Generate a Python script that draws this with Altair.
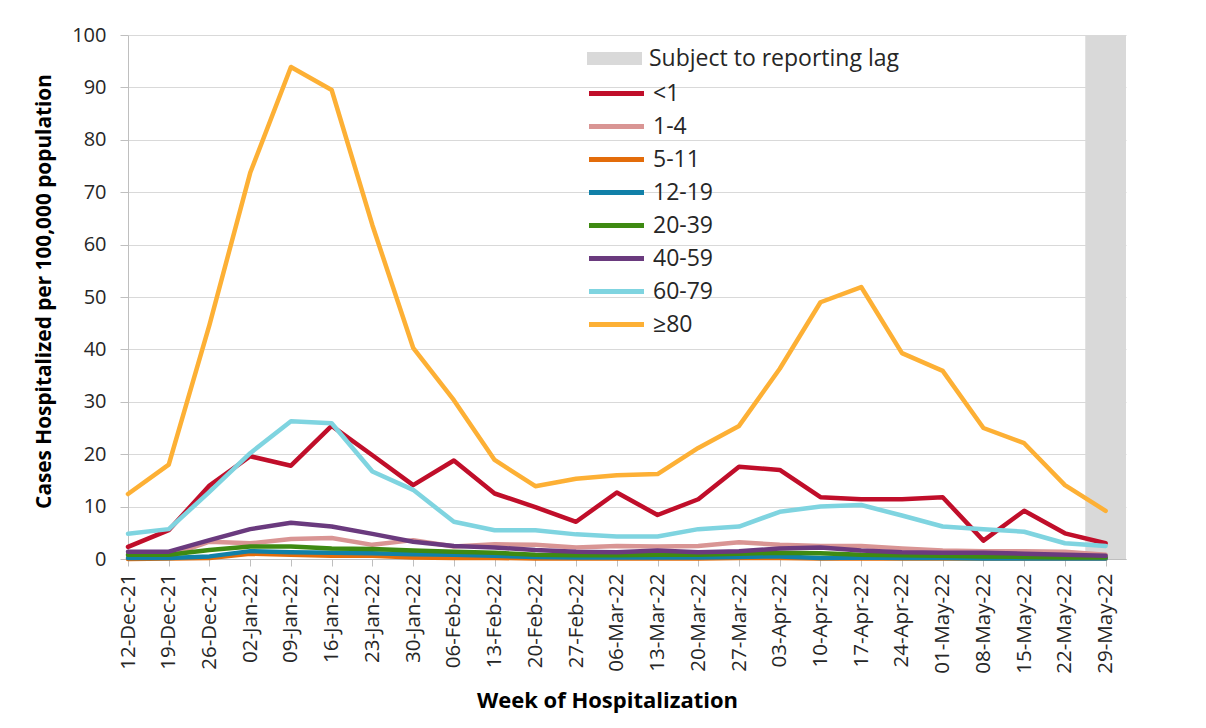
import json
import altair as alt
import pandas as pd

weeks = ["12-Dec-21", "19-Dec-21", "26-Dec-21", "02-Jan-22", "09-Jan-22", "16-Jan-22",
         "23-Jan-22", "30-Jan-22", "06-Feb-22", "13-Feb-22", "20-Feb-22", "27-Feb-22",
         "06-Mar-22", "13-Mar-22", "20-Mar-22", "27-Mar-22", "03-Apr-22", "10-Apr-22",
         "17-Apr-22", "24-Apr-22", "01-May-22", "08-May-22", "15-May-22", "22-May-22",
         "29-May-22"]

groups = ["<1", "1-4", "5-11", "12-19", "20-39", "40-59", "60-79", "≥80"]
colors = ["#C00E2A", "#D99594", "#E36C0A", "#1180A8", "#3E8A12", "#6A3A7E", "#7FD4E0", "#FDB035"]

age_lt1 = [2.3, 5.5, 14.0, 19.6, 17.8, 25.4, 19.8, 14.1, 18.8, 12.5, 9.9, 7.1, 12.7,
           8.4, 11.4, 17.6, 17.0, 11.8, 11.4, 11.4, 11.8, 3.5, 9.2, 4.9, 3.0]
age_1_4 = [0.6, 0.6, 3.3, 3.0, 3.8, 4.0, 2.7, 3.6, 2.4, 2.8, 2.7, 2.2, 2.5,
           2.4, 2.5, 3.2, 2.7, 2.5, 2.5, 2.0, 1.6, 1.5, 1.5, 1.4, 0.8]
age_5_11 = [0.0, 0.1, 0.2, 1.0, 0.8, 0.6, 0.6, 0.3, 0.2, 0.2, 0.1, 0.1, 0.1,
            0.1, 0.1, 0.2, 0.2, 0.1, 0.1, 0.1, 0.1, 0.1, 0.1, 0.1, 0.1]
age_12_19 = [0.2, 0.2, 0.5, 1.5, 1.3, 1.2, 1.1, 0.9, 0.8, 0.6, 0.4, 0.3, 0.3,
             0.3, 0.3, 0.4, 0.5, 0.2, 0.3, 0.2, 0.2, 0.1, 0.1, 0.1, 0.1]
age_20_39 = [0.8, 0.8, 1.7, 2.4, 2.4, 2.0, 1.9, 1.6, 1.4, 1.2, 0.8, 0.7, 0.7,
             0.8, 0.8, 1.0, 1.2, 1.1, 0.8, 0.7, 0.6, 0.5, 0.4, 0.3, 0.3]
age_40_59 = [1.4, 1.4, 3.6, 5.7, 6.9, 6.2, 4.8, 3.3, 2.5, 2.2, 1.7, 1.4, 1.3,
             1.6, 1.3, 1.5, 2.0, 2.2, 1.6, 1.3, 1.2, 1.2, 1.0, 0.8, 0.6]
age_60_79 = [4.8, 5.7, 12.8, 20.2, 26.3, 25.9, 16.7, 13.2, 7.1, 5.5, 5.5, 4.7, 4.3,
             4.3, 5.7, 6.2, 9.0, 10.0, 10.3, 8.3, 6.2, 5.7, 5.2, 3.0, 2.5]
age_80 = [12.4, 18.0, 44.7, 73.7, 93.9, 89.5, 63.7, 40.3, 30.3, 18.9, 13.9, 15.3, 16.0,
          16.2, 21.2, 25.4, 36.3, 49.0, 51.9, 39.3, 35.9, 25.0, 22.1, 14.1, 9.2]

series = [age_lt1, age_1_4, age_5_11, age_12_19, age_20_39, age_40_59, age_60_79, age_80]

lag_label = ["Subject to reporting lag"]
lag_start = [23.5]
lag_end = [24.5]
lag_low = [0]
lag_high = [100]

rows = []
for name, vals in zip(groups, series):
    for i, v in enumerate(vals):
        rows.append({"idx": i, "group": name, "value": v})
df = pd.DataFrame(rows)

lag = pd.DataFrame({"label": lag_label, "x0": lag_start, "x1": lag_end,
                    "y0": lag_low, "y1": lag_high})

FONT = "Open Sans"
label_expr = json.dumps(weeks) + "[datum.value]"

x_scale = alt.Scale(domain=[0, 24.5], nice=False, zero=False)
y_scale = alt.Scale(domain=[0, 100], nice=False)

x_axis = alt.Axis(values=list(range(len(weeks))), labelExpr=label_expr, labelAngle=-90,
                  title="Week of Hospitalization", grid=False, tickSize=7,
                  labelPadding=7, titlePadding=17, labelFontSize=20.5,
                  titleFontSize=22, titleX=479, labelFlush=False, labelOverlap=False)
y_axis = alt.Axis(values=list(range(0, 101, 10)), title="Cases Hospitalized per 100,000 population",
                  grid=True, tickSize=8, labelPadding=14, titlePadding=17,
                  labelFontSize=20, titleFontSize=20.8, titleY=256)

line_legend = alt.Legend(title=None, orient="none", legendX=475, legendY=45,
                         symbolType="M-2.5,0H2.5", symbolSize=484, symbolStrokeWidth=5,
                         rowPadding=7, labelOffset=23, padding=0, labelLimit=0)
lag_legend = alt.Legend(title=None, orient="none", legendX=475, legendY=12,
                        symbolType="M-2.5,-0.6H2.5V0.6H-2.5Z", symbolSize=484,
                        symbolStrokeWidth=0, labelOffset=23, padding=0, labelLimit=0)

band = alt.Chart(lag).mark_rect(stroke=None).encode(
    x=alt.X("x0:Q", scale=x_scale, axis=x_axis),
    x2="x1:Q",
    y=alt.Y("y0:Q", scale=y_scale, axis=y_axis),
    y2="y1:Q",
    fill=alt.Fill("label:N", scale=alt.Scale(domain=lag_label, range=["#D9D9D9"]),
                  legend=lag_legend),
)

lines = alt.Chart(df).mark_line(strokeWidth=4.5, strokeJoin="round", strokeCap="round").encode(
    x=alt.X("idx:Q", scale=x_scale),
    y=alt.Y("value:Q", scale=y_scale),
    stroke=alt.Stroke("group:N", scale=alt.Scale(domain=groups, range=colors),
                      sort=groups, legend=line_legend),
)

chart = alt.layer(band, lines).resolve_scale(fill="independent", stroke="independent").properties(
    width=998, height=524,
    autosize=alt.AutoSizeParams(type="none"),
    padding={"left": 120, "top": 27, "right": 60, "bottom": 165},
).configure_view(stroke=None).configure_axis(
    labelFont=FONT, titleFont=FONT, labelColor="#262626", titleColor="#000000",
    domainColor="#BFBFBF", tickColor="#BFBFBF", gridColor="#D9D9D9",
    titleFontWeight="bold",
).configure_legend(
    labelFont=FONT, labelFontSize=23, labelColor="#262626",
)

chart.save("out.html", embed_options={"renderer": "svg", "actions": False})
